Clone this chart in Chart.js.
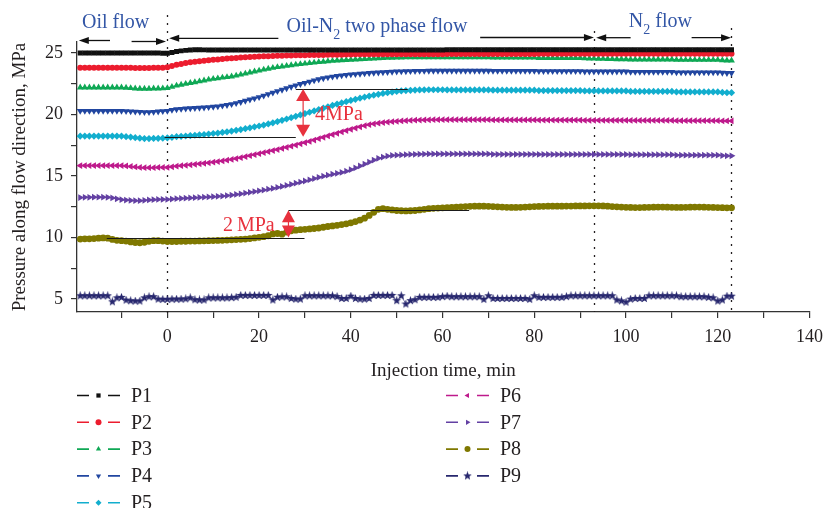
<!DOCTYPE html>
<html>
<head>
<meta charset="utf-8">
<script src="https://cdn.jsdelivr.net/npm/chart.js@4.4.0/dist/chart.umd.min.js"></script>
<style>
  html, body { margin: 0; padding: 0; background: #fff; }
</style>
</head>
<body>
<canvas id="chart" width="831" height="508"></canvas>
<script>
// injection time, min (one reading per minute)
const times = [
  -19,-18,-17,-16,-15,-14,-13,-12,-11,-10,
  -9,-8,-7,-6,-5,-4,-3,-2,-1,0,
  1,2,3,4,5,6,7,8,9,10,
  11,12,13,14,15,16,17,18,19,20,
  21,22,23,24,25,26,27,28,29,30,
  31,32,33,34,35,36,37,38,39,40,
  41,42,43,44,45,46,47,48,49,50,
  51,52,53,54,55,56,57,58,59,60,
  61,62,63,64,65,66,67,68,69,70,
  71,72,73,74,75,76,77,78,79,80,
  81,82,83,84,85,86,87,88,89,90,
  91,92,93,94,95,96,97,98,99,100,
  101,102,103,104,105,106,107,108,109,110,
  111,112,113,114,115,116,117,118,119,120,
  121,122,123
]

// pressure, MPa
const p1 = [
  25.0,25.0,25.0,25.0,25.0,25.0,25.0,25.0,25.0,25.0,
  25.0,25.0,25.0,25.0,25.0,25.0,25.0,25.0,24.98,24.98,
  25.05,25.12,25.18,25.22,25.25,25.27,25.27,25.26,25.25,25.25,
  25.25,25.25,25.25,25.25,25.25,25.25,25.25,25.25,25.25,25.25,
  25.25,25.25,25.25,25.25,25.25,25.25,25.25,25.25,25.25,25.25,
  25.25,25.25,25.25,25.25,25.25,25.25,25.25,25.25,25.25,25.25,
  25.25,25.25,25.25,25.25,25.25,25.25,25.25,25.25,25.25,25.25,
  25.25,25.25,25.25,25.25,25.25,25.25,25.25,25.25,25.25,25.25,
  25.27,25.27,25.27,25.27,25.27,25.27,25.27,25.27,25.27,25.27,
  25.27,25.27,25.27,25.27,25.27,25.27,25.27,25.27,25.27,25.27,
  25.27,25.27,25.27,25.27,25.27,25.27,25.27,25.27,25.27,25.27,
  25.27,25.27,25.27,25.27,25.27,25.27,25.27,25.27,25.27,25.27,
  25.27,25.27,25.27,25.27,25.27,25.27,25.27,25.27,25.27,25.27,
  25.27,25.27,25.27,25.27,25.27,25.27,25.27,25.27,25.27,25.27,
  25.27,25.27,25.27
]
const p2 = [
  23.8,23.8,23.8,23.8,23.8,23.8,23.8,23.8,23.8,23.8,
  23.8,23.8,23.78,23.78,23.78,23.78,23.8,23.8,23.8,23.85,
  23.95,24.05,24.12,24.2,24.26,24.3,24.34,24.38,24.42,24.45,
  24.48,24.52,24.55,24.58,24.6,24.63,24.66,24.68,24.7,24.72,
  24.74,24.75,24.77,24.78,24.79,24.8,24.81,24.82,24.82,24.83,
  24.84,24.84,24.85,24.85,24.86,24.86,24.87,24.87,24.88,24.88,
  24.9,24.9,24.9,24.9,24.9,24.9,24.9,24.9,24.9,24.9,
  24.9,24.9,24.9,24.9,24.9,24.9,24.9,24.9,24.9,24.9,
  24.92,24.92,24.92,24.92,24.92,24.92,24.92,24.92,24.92,24.92,
  24.92,24.92,24.92,24.92,24.92,24.92,24.92,24.92,24.92,24.92,
  24.95,24.95,24.95,24.95,24.95,24.95,24.95,24.95,24.95,24.95,
  24.95,24.95,24.95,24.95,24.95,24.95,24.95,24.95,24.95,24.95,
  24.95,24.95,24.95,24.95,24.95,24.95,24.95,24.95,24.95,24.95,
  24.95,24.95,24.95,24.95,24.95,24.95,24.95,24.95,24.95,24.95,
  24.95,24.95,24.95
]
const p3 = [
  22.2,22.2,22.2,22.2,22.2,22.2,22.2,22.2,22.2,22.2,
  22.18,22.15,22.12,22.1,22.1,22.1,22.12,22.12,22.13,22.15,
  22.25,22.35,22.43,22.5,22.57,22.63,22.7,22.77,22.84,22.9,
  22.95,23.0,23.05,23.1,23.17,23.25,23.33,23.42,23.5,23.58,
  23.66,23.73,23.8,23.86,23.91,23.96,24.01,24.06,24.1,24.14,
  24.18,24.22,24.26,24.3,24.34,24.37,24.4,24.42,24.44,24.46,
  24.48,24.5,24.52,24.54,24.56,24.58,24.6,24.61,24.62,24.63,
  24.64,24.65,24.65,24.65,24.65,24.65,24.65,24.65,24.65,24.65,
  24.65,24.65,24.65,24.65,24.65,24.65,24.65,24.65,24.65,24.65,
  24.63,24.63,24.63,24.63,24.63,24.63,24.63,24.63,24.63,24.63,
  24.6,24.6,24.6,24.6,24.6,24.6,24.6,24.6,24.6,24.6,
  24.57,24.56,24.55,24.54,24.53,24.52,24.51,24.5,24.5,24.5,
  24.48,24.48,24.48,24.48,24.48,24.48,24.48,24.48,24.48,24.48,
  24.45,24.45,24.45,24.45,24.45,24.45,24.45,24.45,24.45,24.45,
  24.42,24.4,24.4
]
const p4 = [
  20.3,20.3,20.3,20.3,20.3,20.3,20.3,20.3,20.3,20.3,
  20.28,20.26,20.24,20.22,20.2,20.2,20.22,20.25,20.28,20.3,
  20.38,20.43,20.46,20.49,20.51,20.53,20.55,20.57,20.6,20.63,
  20.67,20.72,20.78,20.85,20.93,21.02,21.12,21.22,21.32,21.42,
  21.54,21.66,21.78,21.9,22.02,22.14,22.26,22.37,22.48,22.58,
  22.68,22.78,22.87,22.95,23.02,23.08,23.13,23.18,23.22,23.26,
  23.29,23.32,23.35,23.38,23.4,23.42,23.44,23.46,23.48,23.5,
  23.51,23.52,23.53,23.54,23.55,23.55,23.56,23.56,23.56,23.56,
  23.56,23.56,23.56,23.56,23.56,23.56,23.56,23.56,23.56,23.56,
  23.55,23.55,23.55,23.55,23.55,23.55,23.55,23.55,23.55,23.55,
  23.53,23.53,23.53,23.53,23.53,23.53,23.53,23.53,23.53,23.53,
  23.5,23.5,23.5,23.5,23.5,23.5,23.5,23.5,23.5,23.5,
  23.47,23.47,23.47,23.47,23.47,23.47,23.47,23.47,23.47,23.47,
  23.43,23.43,23.43,23.43,23.43,23.43,23.43,23.43,23.43,23.43,
  23.4,23.38,23.38
]
const p5 = [
  18.25,18.25,18.25,18.25,18.25,18.25,18.25,18.25,18.25,18.25,
  18.2,18.17,18.12,18.08,18.05,18.05,18.06,18.07,18.08,18.1,
  18.15,18.2,18.23,18.26,18.29,18.32,18.35,18.38,18.42,18.46,
  18.5,18.55,18.6,18.66,18.72,18.78,18.85,18.92,19.0,19.07,
  19.15,19.24,19.33,19.43,19.53,19.64,19.75,19.86,19.97,20.08,
  20.19,20.3,20.41,20.52,20.63,20.74,20.85,20.95,21.05,21.15,
  21.24,21.33,21.42,21.5,21.58,21.65,21.72,21.78,21.83,21.88,
  21.92,21.95,21.97,21.99,22.0,22.01,22.02,22.02,22.02,22.02,
  22.0,22.0,22.0,22.0,22.0,22.0,22.0,22.0,22.0,22.0,
  21.98,21.98,21.98,21.98,21.98,21.98,21.98,21.98,21.98,21.98,
  21.95,21.95,21.95,21.95,21.95,21.95,21.95,21.95,21.95,21.95,
  21.92,21.92,21.92,21.92,21.92,21.92,21.92,21.92,21.92,21.92,
  21.88,21.88,21.88,21.88,21.88,21.88,21.88,21.88,21.88,21.88,
  21.84,21.84,21.84,21.84,21.84,21.84,21.84,21.84,21.84,21.84,
  21.8,21.78,21.78
]
const p6 = [
  15.85,15.85,15.85,15.85,15.85,15.85,15.85,15.85,15.85,15.85,
  15.82,15.78,15.74,15.7,15.68,15.68,15.68,15.7,15.7,15.7,
  15.75,15.8,15.84,15.88,15.92,15.96,16.0,16.04,16.08,16.13,
  16.18,16.23,16.29,16.35,16.42,16.5,16.58,16.66,16.74,16.82,
  16.9,16.98,17.07,17.16,17.25,17.34,17.43,17.52,17.62,17.72,
  17.82,17.93,18.04,18.15,18.26,18.37,18.48,18.59,18.7,18.8,
  18.9,19.0,19.1,19.18,19.25,19.3,19.35,19.39,19.42,19.45,
  19.48,19.5,19.52,19.54,19.55,19.56,19.57,19.58,19.58,19.58,
  19.58,19.58,19.58,19.58,19.58,19.58,19.58,19.58,19.58,19.58,
  19.56,19.56,19.56,19.56,19.56,19.56,19.56,19.56,19.56,19.56,
  19.55,19.55,19.55,19.55,19.55,19.55,19.55,19.55,19.55,19.55,
  19.53,19.53,19.53,19.53,19.53,19.53,19.53,19.53,19.53,19.53,
  19.52,19.52,19.52,19.52,19.52,19.52,19.52,19.52,19.52,19.52,
  19.5,19.5,19.5,19.5,19.5,19.5,19.5,19.5,19.5,19.5,
  19.48,19.48,19.48
]
const p7 = [
  13.25,13.27,13.27,13.28,13.28,13.28,13.27,13.22,13.15,13.08,
  13.05,13.02,13.0,13.0,13.03,13.06,13.08,13.1,13.1,13.1,
  13.13,13.16,13.18,13.2,13.22,13.24,13.26,13.28,13.3,13.32,
  13.35,13.38,13.42,13.46,13.51,13.56,13.62,13.68,13.74,13.8,
  13.86,13.93,14.0,14.08,14.16,14.24,14.33,14.42,14.51,14.6,
  14.7,14.8,14.9,14.99,15.07,15.15,15.22,15.3,15.4,15.52,
  15.66,15.82,15.98,16.14,16.3,16.44,16.55,16.63,16.68,16.7,
  16.72,16.74,16.76,16.77,16.78,16.79,16.8,16.8,16.8,16.8,
  16.8,16.8,16.8,16.8,16.8,16.8,16.8,16.8,16.8,16.8,
  16.77,16.77,16.77,16.77,16.77,16.77,16.77,16.77,16.77,16.77,
  16.76,16.76,16.76,16.76,16.76,16.76,16.76,16.76,16.76,16.76,
  16.76,16.76,16.76,16.76,16.76,16.76,16.76,16.76,16.76,16.76,
  16.74,16.74,16.74,16.74,16.74,16.74,16.74,16.74,16.74,16.74,
  16.7,16.7,16.7,16.7,16.7,16.7,16.7,16.7,16.7,16.7,
  16.67,16.65,16.65
]
const p8 = [
  9.88,9.9,9.9,9.92,9.95,9.97,9.95,9.85,9.78,9.75,
  9.72,9.65,9.6,9.58,9.62,9.7,9.75,9.75,9.72,9.68,
  9.68,9.68,9.7,9.7,9.72,9.72,9.73,9.74,9.75,9.76,
  9.77,9.78,9.8,9.82,9.84,9.86,9.88,9.92,9.97,10.02,
  10.07,10.15,10.3,10.33,10.28,10.45,10.55,10.6,10.64,10.67,
  10.7,10.74,10.78,10.84,10.9,10.95,11.0,11.06,11.12,11.2,
  11.3,11.42,11.58,11.8,12.05,12.3,12.35,12.3,12.25,12.2,
  12.18,12.17,12.18,12.2,12.25,12.3,12.35,12.38,12.4,12.42,
  12.44,12.46,12.48,12.5,12.52,12.54,12.55,12.55,12.55,12.54,
  12.52,12.5,12.48,12.46,12.45,12.45,12.46,12.48,12.5,12.52,
  12.53,12.54,12.55,12.55,12.55,12.55,12.56,12.56,12.57,12.57,
  12.57,12.58,12.58,12.58,12.57,12.55,12.52,12.5,12.48,12.46,
  12.45,12.44,12.44,12.45,12.46,12.47,12.48,12.48,12.47,12.46,
  12.45,12.45,12.46,12.47,12.48,12.48,12.47,12.46,12.45,12.44,
  12.43,12.42,12.42
]
const p9 = [
  5.27,5.27,5.27,5.27,5.27,5.27,5.27,4.78,5.1,5.14,
  4.92,4.86,4.84,4.84,5.1,5.19,5.19,5.0,4.98,4.98,
  5.0,5.0,5.0,5.02,5.1,4.95,4.93,4.93,5.1,5.1,
  5.1,5.1,5.1,5.12,5.15,5.3,5.3,5.3,5.3,5.3,
  5.3,5.3,4.93,5.15,5.18,5.18,5.05,5.0,5.0,5.27,
  5.27,5.27,5.27,5.27,5.27,5.27,5.2,5.05,5.05,5.24,
  5.05,5.0,5.0,5.05,5.3,5.3,5.3,5.3,5.3,4.87,
  5.27,4.6,4.87,4.95,5.14,5.14,5.14,5.14,5.14,5.2,
  5.24,5.19,5.19,5.19,5.19,5.19,5.19,5.19,4.98,5.27,
  5.05,5.05,5.05,5.05,5.05,5.05,5.05,5.05,4.98,5.27,
  5.14,5.14,5.14,5.14,5.14,5.14,5.2,5.27,5.27,5.27,
  5.27,5.27,5.27,5.27,5.27,5.27,5.27,4.93,4.85,4.75,
  5.0,5.05,5.05,5.05,5.27,5.27,5.27,5.27,5.27,5.27,
  5.27,5.19,5.19,5.19,5.19,5.19,5.19,5.14,5.1,4.84,
  4.93,5.24,5.24
]

const seriesNames = ['P1', 'P2', 'P3', 'P4', 'P5', 'P6', 'P7', 'P8', 'P9']
const seriesValues = [p1, p2, p3, p4, p5, p6, p7, p8, p9]
const seriesColors = ['#111111', '#ec1c2e', '#0fa855', '#2146a0', '#12aece', '#be1a8c', '#6340a3', '#7f7800', '#27276e']

const xTicks = [-10, 0, 10, 20, 30, 40, 50, 60, 70, 80, 90, 100, 110, 120, 130, 140]
const xLabelled = [0, 20, 40, 60, 80, 100, 120, 140]
const yTicks = [5, 7.5, 10, 12.5, 15, 17.5, 20, 22.5, 25]
const yLabelled = [5, 10, 15, 20, 25]

// flow stage boundaries (min)
const stageLines = [0, 93.1, 122.9]

const INK = '#231f20'
const BLUE = '#3356a6'
const RED = '#e8313d'
const FONT = '"Liberation Serif", "DejaVu Serif", serif'

function starImage(color, size) {
    let c = document.createElement('canvas')
    c.width = size
    c.height = size
    let g = c.getContext('2d')
    g.fillStyle = color
    g.beginPath()
    for (let k = 0; k < 10; k++) {
        let r = k % 2 ? size * 0.22 : size * 0.5
        let a = -Math.PI / 2 + k * Math.PI / 5
        g.lineTo(size / 2 + r * Math.cos(a), size / 2 + r * Math.sin(a))
    }
    g.closePath()
    g.fill()
    return c
}

const markers = [
    { style: 'rect', rot: 0, r: 3.5 },
    { style: 'circle', rot: 0, r: 3 },
    { style: 'triangle', rot: 0, r: 3.9 },
    { style: 'triangle', rot: 180, r: 3.9 },
    { style: 'rectRot', rot: 0, r: 3.6 },
    { style: 'triangle', rot: -90, r: 3.9 },
    { style: 'triangle', rot: 90, r: 3.9 },
    { style: 'circle', rot: 0, r: 3.4 },
    { style: starImage(seriesColors[8], 9), rot: 0, r: 4 }
]

let datasets = seriesValues.map(function(values, i) {
    return {
        label: seriesNames[i],
        data: values.map(function(v, k) { return { x: times[k], y: v } }),
        borderColor: seriesColors[i],
        backgroundColor: seriesColors[i],
        borderWidth: i === 8 ? 0.6 : 1.2,
        pointStyle: markers[i].style,
        pointRotation: markers[i].rot,
        pointRadius: markers[i].r,
        pointBorderWidth: 0,
        tension: 0
    }
})

function hArrow(ctx, x1, x2, y) {
    // shaft from x1 to x2, head at x2
    let dir = x2 > x1 ? 1 : -1
    ctx.beginPath()
    ctx.moveTo(x1, y)
    ctx.lineTo(x2 - dir * 8, y)
    ctx.stroke()
    ctx.beginPath()
    ctx.moveTo(x2, y)
    ctx.lineTo(x2 - dir * 10, y - 3.5)
    ctx.lineTo(x2 - dir * 10, y + 3.5)
    ctx.closePath()
    ctx.fill()
}

function vDoubleArrow(ctx, x, yTop, yBot, headH, headW) {
    ctx.beginPath()
    ctx.moveTo(x, yTop + headH - 1)
    ctx.lineTo(x, yBot - headH + 1)
    ctx.stroke()
    ctx.beginPath()
    ctx.moveTo(x, yTop)
    ctx.lineTo(x - headW, yTop + headH)
    ctx.lineTo(x + headW, yTop + headH)
    ctx.closePath()
    ctx.fill()
    ctx.beginPath()
    ctx.moveTo(x, yBot)
    ctx.lineTo(x - headW, yBot - headH)
    ctx.lineTo(x + headW, yBot - headH)
    ctx.closePath()
    ctx.fill()
}

function subText(ctx, parts, x, y) {
    // parts: [text, isSubscript]
    parts.forEach(function(p) {
        ctx.font = (p[1] ? '14px ' : '20px ') + FONT
        ctx.fillText(p[0], x, p[1] ? y + 7 : y)
        x += ctx.measureText(p[0]).width
    })
}

const decor = {
    id: 'decor',
    beforeDatasetsDraw(chart) {
        let ctx = chart.ctx
        let xs = chart.scales.x
        let area = chart.chartArea
        let tops = [15, 31, 28]
        ctx.save()
        ctx.strokeStyle = INK
        ctx.lineWidth = 1.3
        ctx.setLineDash([2, 6])
        stageLines.forEach(function(t, i) {
            let x = Math.round(xs.getPixelForValue(t)) + 0.5
            ctx.beginPath()
            ctx.moveTo(x, tops[i])
            ctx.lineTo(x, area.bottom + (i === 0 ? 6 : 0))
            ctx.stroke()
        })
        ctx.restore()
    },
    afterDatasetsDraw(chart) {
        let ctx = chart.ctx
        let xs = chart.scales.x
        let ys = chart.scales.y
        let px = function(t) { return xs.getPixelForValue(t) }
        let py = function(v) { return ys.getPixelForValue(v) }
        ctx.save()
        // reference levels
        ctx.strokeStyle = '#1a1a1a'
        ctx.lineWidth = 1.2
        let levels = [[-0.6, 28, 18.2], [28, 52.4, 22.07], [-13.2, 29.9, 10.0], [26.4, 65.8, 12.22]]
        levels.forEach(function(l) {
            let y = Math.round(py(l[2])) + 0.5
            ctx.beginPath()
            ctx.moveTo(px(l[0]), y)
            ctx.lineTo(px(l[1]), y)
            ctx.stroke()
        })
        // pressure rise arrows
        ctx.strokeStyle = RED
        ctx.fillStyle = RED
        ctx.lineWidth = 1.2
        vDoubleArrow(ctx, px(29.6), py(22.07), py(18.2), 12, 7)
        vDoubleArrow(ctx, px(26.4), py(12.22), py(10.0), 12, 6.5)
        ctx.font = '20px ' + FONT
        ctx.textBaseline = 'middle'
        ctx.textAlign = 'left'
        ctx.fillText('4MPa', px(32.2), py(19.95))
        ctx.textAlign = 'right'
        ctx.fillText('2\u2009MPa', px(23.4), py(10.93))
        ctx.restore()
    },
    afterDraw(chart) {
        let ctx = chart.ctx
        let xs = chart.scales.x
        let px = function(t) { return xs.getPixelForValue(t) }
        ctx.save()
        // flow stage arrows
        ctx.strokeStyle = '#111'
        ctx.fillStyle = '#111'
        ctx.lineWidth = 1.3
        hArrow(ctx, px(-12.5), px(-19.3), 40.5)
        hArrow(ctx, px(-7.8), px(-0.3), 41.5)
        hArrow(ctx, px(24.2), px(0.4), 38.3)
        hArrow(ctx, px(68.2), px(93.0), 37.5)
        hArrow(ctx, px(101.0), px(93.5), 37.7)
        hArrow(ctx, px(114.3), px(122.9), 37.7)
        // stage titles
        ctx.fillStyle = BLUE
        ctx.textBaseline = 'alphabetic'
        ctx.textAlign = 'left'
        subText(ctx, [['Oil flow', false]], px(-18.6), 28)
        subText(ctx, [['Oil-N', false], ['2', true], [' two phase flow', false]], px(26.0), 31.5)
        subText(ctx, [['N', false], ['2', true], [' flow', false]], px(100.6), 26.5)
        // legend
        ctx.textBaseline = 'middle'
        chart.data.datasets.forEach(function(ds, i) {
            let col = i < 5 ? 0 : 1
            let row = i < 5 ? i : i - 5
            let x0 = col ? 446 : 77
            let y = 395.5 + row * 26.8
            ctx.strokeStyle = ds.borderColor
            ctx.fillStyle = ds.borderColor
            ctx.lineWidth = 1.6
            ctx.beginPath()
            ctx.moveTo(x0, y)
            ctx.lineTo(x0 + 12, y)
            ctx.moveTo(x0 + 31, y)
            ctx.lineTo(x0 + 43, y)
            ctx.stroke()
            Chart.helpers.drawPoint(ctx, {
                pointStyle: ds.pointStyle,
                rotation: ds.pointRotation,
                radius: Math.min(ds.pointRadius, 3),
                borderWidth: 0
            }, x0 + 21.5, y)
            ctx.fillStyle = INK
            ctx.font = '20px ' + FONT
            ctx.fillText(ds.label, x0 + 54, y + 1)
        })
        ctx.restore()
    }
}

Chart.defaults.font.family = FONT
Chart.defaults.color = INK

let ctx = document.getElementById('chart').getContext('2d')
new Chart(ctx, {
    type: 'line',
    data: { datasets: datasets },
    options: {
        responsive: false,
        animation: false,
        devicePixelRatio: 1,
        layout: { padding: { left: 0, right: 17, top: 42, bottom: 126 } },
        plugins: {
            legend: { display: false },
            tooltip: { enabled: false }
        },
        scales: {
            x: {
                type: 'linear',
                min: -19.7,
                max: 140,
                afterBuildTicks: function(s) { s.ticks = xTicks.map(function(v) { return { value: v } }) },
                afterFit: function(s) { s.height = 70 },
                ticks: {
                    autoSkip: false,
                    maxRotation: 0,
                    padding: 8,
                    font: { size: 18 },
                    callback: function(v) { return xLabelled.indexOf(v) >= 0 ? String(v) : '' }
                },
                grid: { drawOnChartArea: false, tickLength: 6, color: '#333', lineWidth: 1.2 },
                border: { color: '#333', width: 1.3 },
                title: { display: true, text: 'Injection time, min', font: { size: 19 }, padding: { top: 0, bottom: 0 } }
            },
            y: {
                min: 3.95,
                max: 25.9,
                afterBuildTicks: function(s) { s.ticks = yTicks.map(function(v) { return { value: v } }) },
                afterFit: function(s) { s.width = 77 },
                ticks: {
                    padding: 8,
                    font: { size: 18 },
                    callback: function(v) { return yLabelled.indexOf(v) >= 0 ? String(v) : '' }
                },
                grid: { drawOnChartArea: false, tickLength: 6, color: '#333', lineWidth: 1.2 },
                border: { color: '#333', width: 1.3 },
                title: { display: true, text: 'Pressure along flow direction, MPa', font: { size: 19 }, padding: { top: 9, bottom: 0 } }
            }
        }
    },
    plugins: [decor]
})
</script>
</body>
</html>
